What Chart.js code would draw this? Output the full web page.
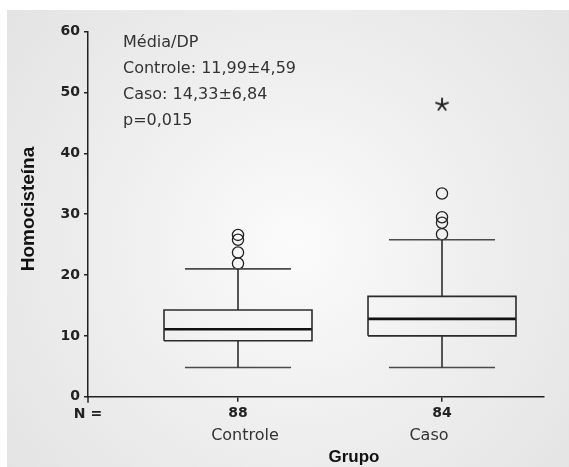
<!DOCTYPE html>
<html>
<head>
<meta charset="utf-8">
<script src="https://cdn.jsdelivr.net/npm/chart.js@4/dist/chart.umd.min.js"></script>
<style>
html,body{margin:0;padding:0;background:#fff;}
#wrap{width:569px;height:467px;position:relative;}
</style>
</head>
<body>
<div id="wrap"><canvas id="c" width="569" height="467"></canvas></div>
<script>
// ---- data ----
const categories = ['Controle', 'Caso'];
const nLabels = ['88', '84'];
const whiskerLow = [4.8, 4.8];
const q1 = [9.2, 10.0];
const median = [11.1, 12.8];
const q3 = [14.25, 16.5];
const whiskerHigh = [21.0, 25.8];
const outliersControle = [21.9, 23.7, 25.8, 26.6];
const outliersCaso = [26.7, 28.6, 29.5, 33.4];
const extremesCaso = [48.0];
const yTicks = [0, 10, 20, 30, 40, 50, 60];
const annotationLines = ['Média/DP', 'Controle: 11,99±4,59', 'Caso: 14,33±6,84', 'p=0,015'];
const yTitle = 'Homocisteína';
const xTitle = 'Grupo';

// ---- styling constants ----
const BOX_HALF = 0.3627;
const CAP_HALF = 0.26;
const LINE = '#2a2a2a';

function seg(points, width, color) {
  return {
    type: 'scatter', data: points, showLine: true, tension: 0,
    borderColor: color || LINE, borderWidth: width, pointRadius: 0,
    backgroundColor: 'rgba(0,0,0,0)', fill: false
  };
}

const datasets = [];
categories.forEach((cat, i) => {
  const c = i + 1;
  datasets.push(seg([{x: c, y: q3[i]}, {x: c, y: whiskerHigh[i]}], 1.6, '#2e2e2e'));
  datasets.push(seg([{x: c, y: q1[i]}, {x: c, y: whiskerLow[i]}], 1.6, '#2e2e2e'));
  datasets.push(seg([{x: c - CAP_HALF, y: whiskerHigh[i]}, {x: c + CAP_HALF, y: whiskerHigh[i]}], 1.7, '#4a4a4a'));
  datasets.push(seg([{x: c - CAP_HALF, y: whiskerLow[i]}, {x: c + CAP_HALF, y: whiskerLow[i]}], 1.7, '#4a4a4a'));
  datasets.push(seg([
    {x: c - BOX_HALF, y: q1[i]}, {x: c + BOX_HALF, y: q1[i]},
    {x: c + BOX_HALF, y: q3[i]}, {x: c - BOX_HALF, y: q3[i]},
    {x: c - BOX_HALF, y: q1[i]}], 1.6, '#2b2b2b'));
  datasets.push(seg([{x: c - BOX_HALF, y: median[i]}, {x: c + BOX_HALF, y: median[i]}], 2.6, '#111'));
});

const outlierSets = [outliersControle, outliersCaso];
outlierSets.forEach((arr, i) => {
  datasets.push({
    type: 'scatter', data: arr.map(v => ({x: i + 1, y: v})),
    pointStyle: 'circle', pointRadius: 5.6, pointBorderWidth: 1.3,
    pointBorderColor: '#222', pointBackgroundColor: 'rgba(0,0,0,0)', showLine: false
  });
});

// asterisk marker
const star = document.createElement('canvas');
star.width = 16; star.height = 16;
(function () {
  const g = star.getContext('2d');
  g.strokeStyle = '#222'; g.lineWidth = 1.9; g.lineCap = 'round';
  for (let k = 0; k < 5; k++) {
    const a = -Math.PI / 2 + k * 2 * Math.PI / 5;
    g.beginPath(); g.moveTo(8, 8); g.lineTo(8 + 6.2 * Math.cos(a), 8 + 6.2 * Math.sin(a)); g.stroke();
  }
})();
datasets.push({
  type: 'scatter', data: extremesCaso.map(v => ({x: 2, y: v})),
  pointStyle: star, pointRadius: 6, showLine: false
});

const bgPlugin = {
  id: 'bg',
  beforeDraw(chart) {
    const ctx = chart.ctx;
    ctx.save();
    ctx.fillStyle = '#ffffff';
    ctx.fillRect(0, 0, chart.width, chart.height);
    const g = ctx.createRadialGradient(295, 245, 0, 295, 245, 390);
    g.addColorStop(0, '#fbfbfb');
    g.addColorStop(0.45, '#efefef');
    g.addColorStop(1, '#e2e2e3');
    ctx.fillStyle = g;
    ctx.fillRect(7, 10, chart.width - 7, chart.height - 10);
    ctx.restore();
  }
};

const textPlugin = {
  id: 'texts',
  afterDraw(chart) {
    const ctx = chart.ctx;
    const xs = chart.scales.x, ys = chart.scales.y;
    ctx.save();
    // axis extension below origin
    ctx.strokeStyle = '#222'; ctx.lineWidth = 1.5;
    ctx.beginPath(); ctx.moveTo(xs.left, ys.bottom); ctx.lineTo(xs.left, ys.bottom + 6); ctx.stroke();
    // annotation
    ctx.fillStyle = '#333';
    ctx.font = '16px "DejaVu Sans"';
    ctx.textAlign = 'left'; ctx.textBaseline = 'alphabetic';
    const base = [47, 73, 99, 124.5];
    annotationLines.forEach((t, k) => ctx.fillText(t, 123, base[k]));
    // N =
    ctx.fillStyle = '#222';
    ctx.font = 'bold 14px "DejaVu Sans"';
    ctx.textAlign = 'center'; ctx.textBaseline = 'middle';
    ctx.fillText('N =', xs.left, 414);
    // category names
    ctx.font = '16px "DejaVu Sans"';
    ctx.fillStyle = '#333';
    const off = [7, -13];
    categories.forEach((c, i) => ctx.fillText(c, xs.getPixelForValue(i + 1) + off[i], 436));
    // x title
    ctx.fillStyle = '#111';
    ctx.font = 'bold 17px "Liberation Sans"';
    ctx.fillText(xTitle, 354, 457);
    // y title
    ctx.font = 'bold 19px "Liberation Sans"';
    ctx.translate(29, 209);
    ctx.rotate(-Math.PI / 2);
    ctx.fillText(yTitle, 0, 0);
    ctx.restore();
  }
};

new Chart(document.getElementById('c'), {
  type: 'scatter',
  data: { datasets },
  plugins: [bgPlugin, textPlugin],
  options: {
    responsive: false,
    animation: false,
    events: [],
    layout: { padding: { top: 31.7, right: 25, left: 0, bottom: 0 } },
    plugins: { legend: { display: false }, tooltip: { enabled: false } },
    scales: {
      x: {
        type: 'linear', min: 0.2647, max: 2.5,
        afterFit(s) { s.height = 70.3; },
        afterBuildTicks(s) { s.ticks = categories.map((c, i) => ({value: i + 1})); },
        grid: { drawOnChartArea: false, drawTicks: true, tickLength: 5, color: '#222', lineWidth: 1.5 },
        border: { display: true, color: '#222', width: 1.5 },
        ticks: {
          autoSkip: false, maxRotation: 0, padding: 3, color: '#222',
          font: { family: 'DejaVu Sans', size: 14, weight: 'bold' },
          callback(v, idx) { return nLabels[idx]; }
        }
      },
      y: {
        type: 'linear', min: 0, max: 60,
        afterFit(s) { s.width = 88; },
        afterBuildTicks(s) { s.ticks = yTicks.map(v => ({value: v})); },
        grid: { drawOnChartArea: false, drawTicks: true, tickLength: 4, color: '#222', lineWidth: 1.5 },
        border: { display: true, color: '#222', width: 1.5 },
        ticks: {
          padding: 4, color: '#222',
          font: { family: 'DejaVu Sans', size: 14, weight: 'bold' }
        }
      }
    }
  }
});
</script>
</body>
</html>
